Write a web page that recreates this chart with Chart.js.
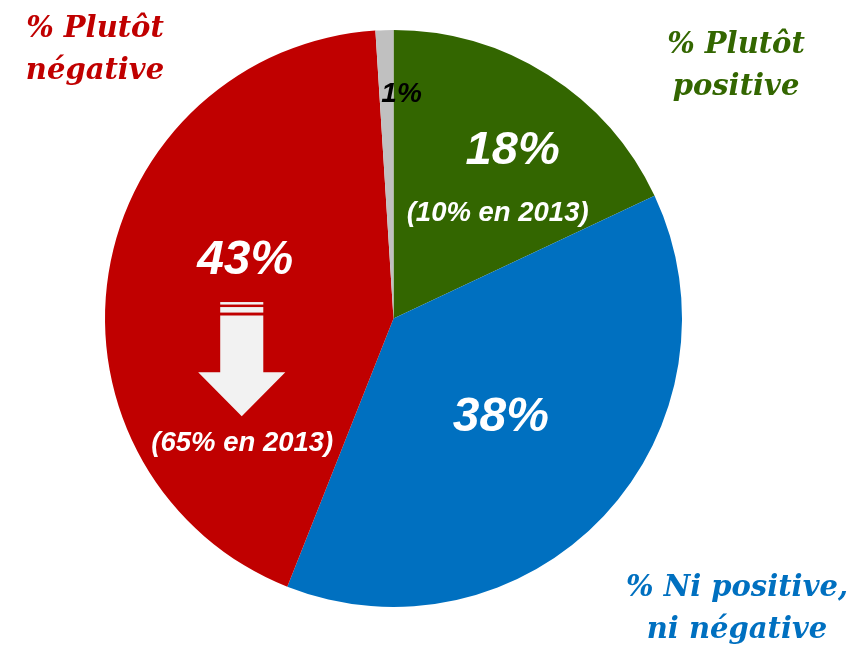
<!DOCTYPE html>
<html>
<head>
<meta charset="utf-8">
<script src="https://cdn.jsdelivr.net/npm/chart.js@4/dist/chart.umd.min.js"></script>
<style>
html,body{margin:0;padding:0;background:#fff;}
#wrap{width:852px;height:646px;position:relative;}
</style>
</head>
<body>
<div id="wrap"><canvas id="c" width="852" height="646"></canvas></div>
<script>
// Data (clockwise from top)
const categories = ['% Plutôt positive', '% Ni positive, ni négative', '% Plutôt négative', 'NSP'];
const values = [18, 38, 43, 1];
const valueLabels = ['18%', '38%', '43%', '1%'];
const previousLabels = ['(10% en 2013)', null, '(65% en 2013)', null];
const colors = ['#336600', '#0070C0', '#C00000', '#C0C0C0'];
const labelColors = ['#FFFFFF', '#FFFFFF', '#FFFFFF', '#000000'];
const cornerLines = [['% Plutôt', 'positive'], ['% Ni positive,', 'ni négative'], ['% Plutôt', 'négative'], null];

// label placement as fractions of the radius relative to the pie centre
const valuePos = [[0.413, -0.580], [0.372, 0.345], [-0.514, -0.200], [0.028, -0.778]];
const valueSize = [47, 48, 48, 28];
const prevPos = [[0.361, -0.365], null, [-0.524, 0.434], null];
// corner labels: [centre x, first baseline y]
const cornerPos = [[736, 53], [737, 596], [95, 37], null];

const labelPlugin = {
  id: 'labels',
  afterDatasetsDraw(chart) {
    const ctx = chart.ctx;
    const meta = chart.getDatasetMeta(0);
    const arc0 = meta.data[0];
    const cx = arc0.x, cy = arc0.y, R = arc0.outerRadius;
    ctx.save();
    ctx.textAlign = 'center';
    ctx.textBaseline = 'middle';
    values.forEach((v, i) => {
      const [fx, fy] = valuePos[i];
      ctx.fillStyle = labelColors[i];
      ctx.font = 'italic bold ' + valueSize[i] + 'px "Liberation Sans", Arial, sans-serif';
      ctx.fillText(valueLabels[i], cx + fx * R, cy + fy * R);
      if (previousLabels[i]) {
        const [px, py] = prevPos[i];
        ctx.font = 'italic bold 27.5px "Liberation Sans", Arial, sans-serif';
        ctx.fillText(previousLabels[i], cx + px * R, cy + py * R);
      }
    });
    // down arrow in the red slice (decrease vs 2013)
    const ax = cx - 0.526 * R;
    const s = R / 288;
    ctx.fillStyle = '#F2F2F2';
    const top = cy - 0.057 * R;
    ctx.fillRect(ax - 21.5 * s, top, 43 * s, 2.5 * s);
    ctx.fillRect(ax - 21.5 * s, top + 5 * s, 43 * s, 5.5 * s);
    ctx.beginPath();
    ctx.moveTo(ax - 21.5 * s, top + 13.5 * s);
    ctx.lineTo(ax + 21.5 * s, top + 13.5 * s);
    ctx.lineTo(ax + 21.5 * s, top + 70 * s);
    ctx.lineTo(ax + 43.5 * s, top + 70 * s);
    ctx.lineTo(ax, top + 114 * s);
    ctx.lineTo(ax - 43.5 * s, top + 70 * s);
    ctx.lineTo(ax - 21.5 * s, top + 70 * s);
    ctx.closePath();
    ctx.fill();
    // corner category labels
    ctx.textBaseline = 'alphabetic';
    ctx.font = 'italic bold 29px "DejaVu Serif", Georgia, serif';
    cornerLines.forEach((lines, i) => {
      if (!lines) return;
      ctx.fillStyle = colors[i];
      const [x, y] = cornerPos[i];
      lines.forEach((t, k) => ctx.fillText(t, x, y + k * 42));
    });
    ctx.restore();
  }
};

new Chart(document.getElementById('c'), {
  type: 'pie',
  data: {
    labels: categories,
    datasets: [{
      data: values,
      backgroundColor: colors,
      borderWidth: 0
    }]
  },
  options: {
    responsive: false,
    animation: false,
    layout: { padding: { left: 105, right: 170, top: 30, bottom: 39 } },
    plugins: { legend: { display: false }, tooltip: { enabled: false } }
  },
  plugins: [labelPlugin]
});
</script>
</body>
</html>
